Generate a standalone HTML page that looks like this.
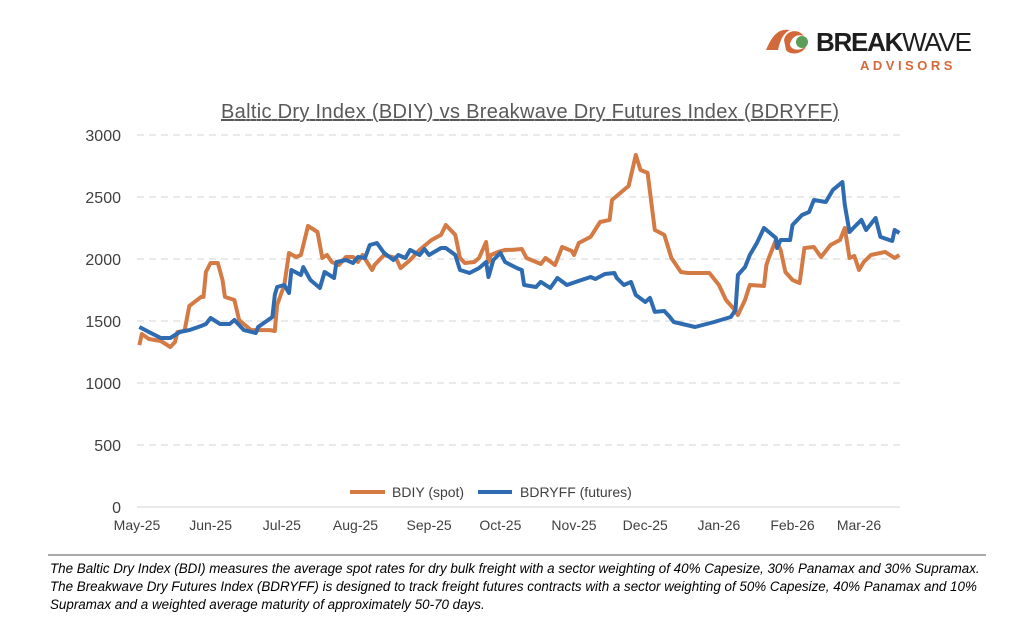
<!DOCTYPE html>
<html><head><meta charset="utf-8"><style>
body{margin:0;background:#fff;width:1034px;height:622px;overflow:hidden;font-family:"Liberation Sans",sans-serif;}
.note{position:absolute;left:50px;top:560px;width:960px;font-size:13.4px;font-style:italic;line-height:18px;color:#000;white-space:nowrap;}
</style></head><body>
<svg width="1034" height="622" style="position:absolute;left:0;top:0">
 <g>
  <path d="M766 50 C772 36 778 28 790 30 C782 34 780 42 778 50 Z" fill="#d2693a"/>
  <path d="M784 40 C786 30 798 28 804 36 C798 34 792 36 790 44 C790 50 800 52 806 46 C804 54 790 56 786 50 Z" fill="#d2693a"/>
  <circle cx="802" cy="42" r="6" fill="#5a9e5a"/>
  <text x="816" y="51" font-size="26" font-weight="bold" fill="#1e1e1e" textLength="156">BREAK<tspan font-weight="normal">WAVE</tspan></text>
  <text x="860" y="70" font-size="13" font-weight="bold" fill="#d2693a" letter-spacing="3.5">ADVISORS</text>
 </g>
 <text x="530" y="118" text-anchor="middle" font-size="20" fill="#595959" text-decoration="underline" textLength="618">Baltic Dry Index (BDIY) vs Breakwave Dry Futures Index (BDRYFF)</text>
 <g id="grid"></g><g id="ylab"></g><g id="xlab"></g><g id="series"></g>
 <g>
  <line x1="350" y1="492" x2="385" y2="492" stroke="#d47a45" stroke-width="4"/>
  <text x="392" y="497" font-size="14" fill="#404040">BDIY (spot)</text>
  <line x1="478" y1="492" x2="512" y2="492" stroke="#2e6bb0" stroke-width="4"/>
  <text x="520" y="497" font-size="14" fill="#404040">BDRYFF (futures)</text>
 </g>
 <line x1="48" y1="555" x2="986" y2="555" stroke="#555" stroke-width="1"/>
</svg>
<div class="note">The Baltic Dry Index (BDI) measures the average spot rates for dry bulk freight with a sector weighting of 40% Capesize, 30% Panamax and 30% Supramax.<br>The Breakwave Dry Futures Index (BDRYFF) is designed to track freight futures contracts with a sector weighting of 50% Capesize, 40% Panamax and 10%<br>Supramax and a weighted average maturity of approximately 50-70 days.</div>
<script>
const yTicks=[0,500,1000,1500,2000,2500,3000];
const xTickLabels=["May-25","Jun-25","Jul-25","Aug-25","Sep-25","Oct-25","Nov-25","Dec-25","Jan-26","Feb-26","Mar-26"];
const xTickDays=[0,31,61,92,123,153,184,214,245,276,304];
const bdiyDays=[1,2,5,10,14,16,17,20,22,27,28,29,31,34,36,37,41,43,48,56,58,59,62,64,67,69,72,76,78,80,82,85,88,91,93,95,99,100,104,109,111,115,119,124,128,130,134,136,138,142,144,147,148,149,152,155,158,162,164,170,172,176,179,183,184,186,191,195,199,200,205,207,210,212,215,218,222,225,229,232,241,245,248,251,253,256,258,264,265,266,269,271,273,276,279,281,285,288,292,296,298,300,302,304,306,309,315,319,321];
const bdiyValues=[1306,1395,1355,1339,1290,1331,1411,1419,1621,1694,1694,1895,1968,1968,1831,1694,1669,1508,1427,1427,1419,1629,1790,2048,2016,2032,2266,2218,2008,2032,1976,1952,2016,2016,1976,2032,1911,1952,2032,2008,1927,1992,2073,2153,2194,2274,2194,2008,1968,1976,2008,2137,1976,2032,2057,2073,2073,2081,2008,1960,2008,1952,2097,2065,2032,2129,2178,2298,2315,2476,2557,2589,2839,2718,2694,2234,2194,2008,1895,1887,1887,1790,1669,1605,1548,1669,1790,1782,1952,2008,2153,2073,1895,1831,1806,2089,2097,2016,2113,2153,2250,2008,2024,1911,1976,2032,2057,2008,2032];
const bdryffDays=[1,5,10,14,18,22,27,29,31,35,39,41,45,50,51,57,58,59,62,64,65,69,70,73,77,79,83,84,88,91,93,96,98,101,104,108,110,113,115,119,121,123,128,130,134,136,140,144,147,148,150,153,155,160,162,163,168,170,174,177,181,186,191,193,197,201,202,205,208,210,214,216,218,222,224,226,235,243,250,252,253,256,258,261,264,269,269.5,271,275,276,280,283,285,290,293,297,298,300,302,305,307,311,313,318,319,321];
const bdryffValues=[1452,1411,1363,1363,1411,1427,1460,1476,1524,1476,1476,1508,1427,1403,1452,1532,1710,1774,1790,1726,1911,1871,1935,1831,1766,1895,1847,1976,1992,1968,2016,2008,2113,2129,2049,1992,2032,2008,2073,2032,2081,2032,2089,2089,2032,1911,1887,1927,1976,1855,1992,2049,1976,1927,1911,1790,1774,1815,1766,1847,1790,1823,1855,1839,1879,1887,1847,1790,1815,1710,1653,1686,1573,1581,1540,1492,1452,1492,1532,1589,1871,1935,2032,2129,2250,2170,2089,2153,2153,2274,2355,2379,2476,2460,2557,2621,2436,2218,2258,2315,2234,2331,2178,2145,2234,2210];
const X=d=>137+d*2.375;
const Y=v=>507-v*0.124;
const NS="http://www.w3.org/2000/svg";
const grid=document.getElementById('grid'),ylab=document.getElementById('ylab'),xlab=document.getElementById('xlab'),ser=document.getElementById('series');
yTicks.forEach(t=>{
 const l=document.createElementNS(NS,'line');
 l.setAttribute('x1',137);l.setAttribute('x2',900);l.setAttribute('y1',Y(t));l.setAttribute('y2',Y(t));
 l.setAttribute('stroke',t===0?'#d0d0d0':'#d4d4d4');l.setAttribute('stroke-width',1);
 if(t!==0)l.setAttribute('stroke-dasharray','7,5');
 
 
 grid.appendChild(l);
 const tx=document.createElementNS(NS,'text');
 tx.setAttribute('x',121);tx.setAttribute('y',Y(t)+6);tx.setAttribute('text-anchor','end');tx.setAttribute('font-size','16');tx.setAttribute('fill','#404040');
 tx.textContent=t;
 
 
 ylab.appendChild(tx);
});
xTickLabels.forEach((s,i)=>{
 const tx=document.createElementNS(NS,'text');
 tx.setAttribute('x',X(xTickDays[i]));tx.setAttribute('y',530);tx.setAttribute('text-anchor','middle');tx.setAttribute('font-size','14');tx.setAttribute('fill','#404040');
 tx.textContent=s;
 
 
 xlab.appendChild(tx);
});
function line(days,vals,color,name){
 const p=document.createElementNS(NS,'polyline');
 p.setAttribute('points',days.map((d,i)=>X(d).toFixed(1)+','+Y(vals[i]).toFixed(1)).join(' '));
 p.setAttribute('fill','none');p.setAttribute('stroke',color);p.setAttribute('stroke-width','4');p.setAttribute('stroke-linejoin','round');
 
 
 ser.appendChild(p);
}
line(bdiyDays,bdiyValues,'#d47a45','bdiy-line');
line(bdryffDays,bdryffValues,'#2e6bb0','bdryff-line');
</script>
</body></html>
